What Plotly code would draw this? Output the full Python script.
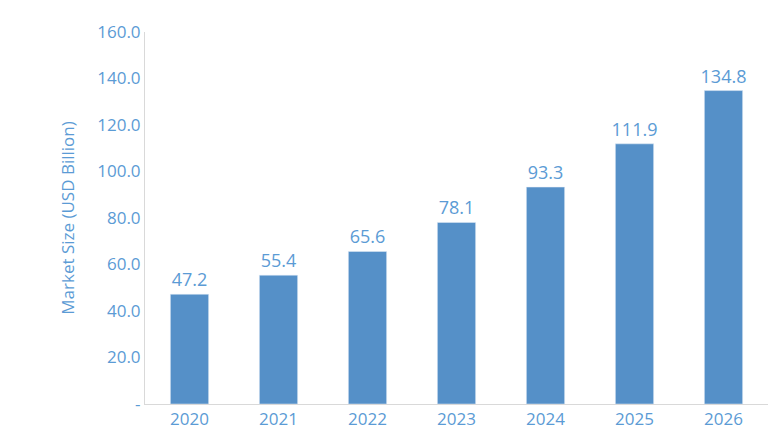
import plotly.graph_objects as go

years = ["2020", "2021", "2022", "2023", "2024", "2025", "2026"]
values = [47.2, 55.4, 65.6, 78.1, 93.3, 111.9, 134.8]
tick_vals = [0, 20, 40, 60, 80, 100, 120, 140, 160]
tick_text = ["-", "20.0", "40.0", "60.0", "80.0", "100.0", "120.0", "140.0", "160.0"]

blue_text = "#5B9BD5"
fig = go.Figure(go.Bar(
    x=years, y=values, marker_color="#5590C8",
    text=[f"{v:.1f}" for v in values], textposition="outside",
    textfont=dict(color=blue_text, size=18), cliponaxis=False,
    constraintext="none",
))
fig.update_layout(
    width=780, height=440, margin=dict(l=137, r=20, t=14, b=44),
    plot_bgcolor="white", paper_bgcolor="white", bargap=0.57,
    font=dict(family="Open Sans", color=blue_text, size=17),
    showlegend=False,
)
fig.update_xaxes(showline=True, linecolor="#D9D9D9", linewidth=1, ticks="", tickfont=dict(size=17, color=blue_text))
fig.update_yaxes(range=[0, 160], tickvals=tick_vals, ticktext=tick_text, showgrid=False,
                 showline=True, linecolor="#D9D9D9", zeroline=False,
                 tickfont=dict(size=17, color=blue_text),
                 title=dict(text="Market Size (USD Billion)", font=dict(size=17, color=blue_text), standoff=18))
fig.write_html("out.html")
